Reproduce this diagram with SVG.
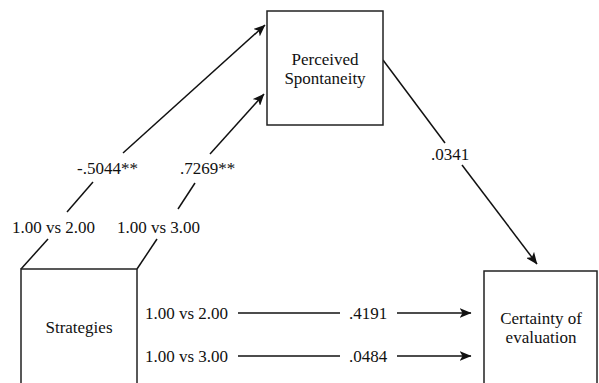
<svg xmlns="http://www.w3.org/2000/svg" width="599" height="383" viewBox="0 0 599 383" font-family="Liberation Serif, serif">
  <style>
    .box { fill: #fff; stroke: #222; stroke-width: 1.5; }
    .lbl { font-size: 17px; fill: #111; }
    .mid { text-anchor: middle; }
    .edge { fill: none; stroke: #111; stroke-width: 1.5; }
    .arr { marker-end: url(#head); }
  </style>
  <defs>
    <marker id="head" viewBox="0 0 12 10" refX="11.5" refY="5" markerWidth="12" markerHeight="10" markerUnits="userSpaceOnUse" orient="auto">
      <path d="M0,0 L12,5 L0,10 L3,5 z" fill="#111"/>
    </marker>
  </defs>

  <rect width="599" height="383" fill="#fff"/>

  <!-- connectors -->
  <g id="connectors">
    <!-- Strategies 1.00 vs 2.00 -> Perceived Spontaneity -->
    <line class="edge" x1="21" y1="269" x2="48" y2="239"/>
    <line class="edge" x1="67" y1="212" x2="93" y2="182"/>
    <line class="edge arr" x1="123" y1="153" x2="265" y2="25"/>
    <!-- Strategies 1.00 vs 3.00 -> Perceived Spontaneity -->
    <line class="edge" x1="137" y1="269" x2="157" y2="239"/>
    <line class="edge" x1="178" y1="209" x2="195" y2="183"/>
    <line class="edge arr" x1="210" y1="154" x2="264" y2="94"/>
    <!-- Perceived Spontaneity -> Certainty of evaluation -->
    <line class="edge" x1="383" y1="60" x2="445" y2="143"/>
    <line class="edge arr" x1="462" y1="165" x2="537" y2="264"/>
    <!-- direct paths -->
    <line class="edge" x1="238" y1="313" x2="340" y2="313"/>
    <line class="edge arr" x1="397" y1="313" x2="471" y2="313"/>
    <line class="edge" x1="238" y1="356" x2="340" y2="356"/>
    <line class="edge arr" x1="397" y1="356" x2="471" y2="356"/>

    <text class="lbl" x="12" y="233">1.00 vs 2.00</text>
    <text class="lbl" x="117" y="233">1.00 vs 3.00</text>
    <text class="lbl" x="77" y="174">-.5044**</text>
    <text class="lbl" x="180" y="174">.7269**</text>
    <text class="lbl mid" x="450" y="160">.0341</text>
    <text class="lbl" x="145" y="319">1.00 vs 2.00</text>
    <text class="lbl" x="145" y="362">1.00 vs 3.00</text>
    <text class="lbl mid" x="368" y="319">.4191</text>
    <text class="lbl mid" x="368" y="362">.0484</text>
  </g>

  <g id="perceived-spontaneity">
    <rect class="box" x="267" y="11" width="116" height="114"/>
    <text class="lbl mid" x="325" y="65">Perceived</text>
    <text class="lbl mid" x="325" y="84">Spontaneity</text>
  </g>

  <g id="strategies">
    <rect class="box" x="21" y="269" width="116" height="130"/>
    <text class="lbl mid" x="79" y="333">Strategies</text>
  </g>

  <g id="certainty-of-evaluation">
    <rect class="box" x="484" y="271" width="113" height="130"/>
    <text class="lbl mid" x="541" y="324">Certainty of</text>
    <text class="lbl mid" x="541" y="343">evaluation</text>
  </g>
</svg>
